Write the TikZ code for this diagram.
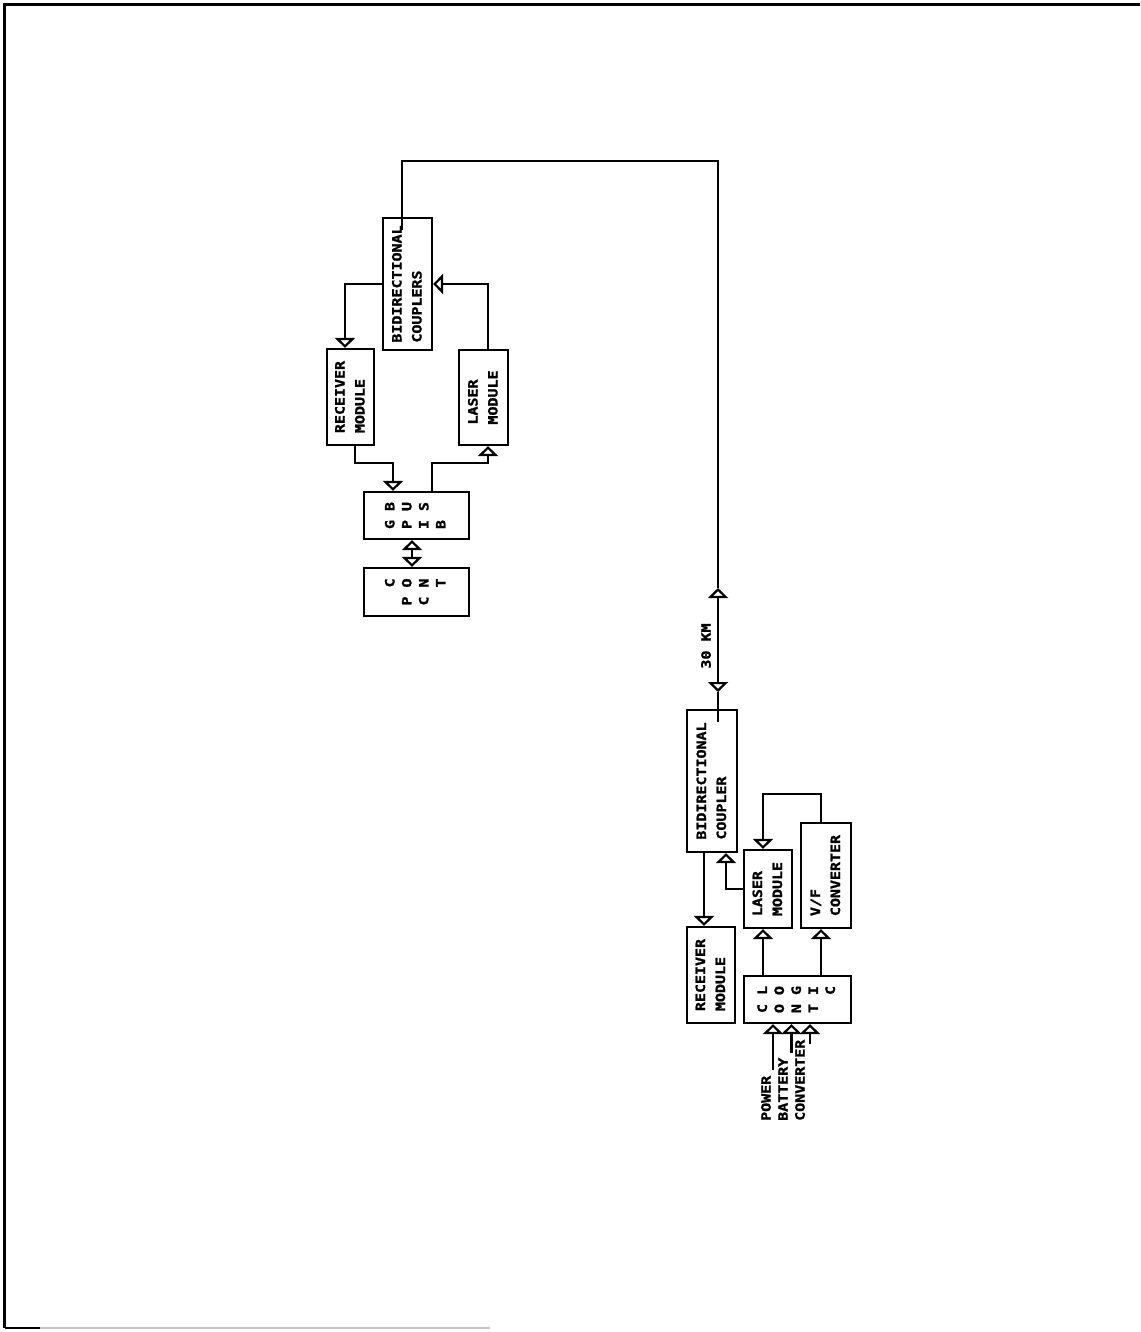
\documentclass[tikz,border=0pt]{standalone}
\usepackage{fontspec}
\usepackage{graphicx}
\usetikzlibrary{arrows.meta}
\newfontfamily\plotfont{DejaVu Sans Mono}[FakeStretch=1.17,FakeBold=1.6]
\newcommand\lblfont{\plotfont\bfseries\fontsize{12.8}{20}\selectfont}
\newcommand\twol[2]{\rotatebox{90}{\begin{tabular}{@{}l@{}}#1\\#2\end{tabular}}}
\newcommand\stk[1]{\rotatebox{90}{\fontsize{12.8}{17}\selectfont\begin{tabular}{@{}c@{\hspace{9pt}}c@{}}#1\end{tabular}}}
\begin{document}
\begin{tikzpicture}[x=1pt,y=-1pt,
  box/.style={draw, line width=2.2pt, inner sep=0pt, font=\lblfont},
  wire/.style={line width=2.2pt},
  arr/.style={wire, -{Triangle[length=10pt,width=20pt,fill=white]}},
  darr/.style={wire, {Triangle[length=10pt,width=20pt,fill=white]}-{Triangle[length=10pt,width=20pt,fill=white]}},
  lbl/.style={inner sep=0pt, font=\lblfont}]
\useasboundingbox (0,0) rectangle (1140,1332);
% frame
\draw[line width=3pt] (4.5,1328) -- (4.5,5) -- (1140,5);
\draw[line width=2pt] (4.5,1328) -- (40,1328);
\draw[line width=2pt, gray!45] (40,1328) -- (490,1328);

% ---------- upper group ----------
\node[box, minimum width=49, minimum height=132] (ubc) at (407.5,284) {\twol{BIDIRECTIONAL}{COUPLERS}};
\node[box, minimum width=47, minimum height=96] (urx) at (350.5,397) {\twol{RECEIVER}{MODULE}};
\node[box, minimum width=49, minimum height=95] (ulm) at (483.5,397.5) {\twol{LASER}{MODULE}};
\node[box, minimum width=105, minimum height=47] (gpib) at (416.5,515.5) {\stk{G&B\\P&U\\I&S\\B&}};
\node[box, minimum width=105, minimum height=48] (pc) at (416.5,592) {\stk{&C\\P&O\\C&N\\&T}};

\coordinate (ubcTap) at (402,230);
\coordinate (tr) at (718,161);
\coordinate (kmTop) at (718,588);
\coordinate (kmMid) at (718,640);
\coordinate (kmBot) at (718,692);
\coordinate (lbcTap) at (718,722);
\coordinate (busY) at (0,463);
\coordinate (loopY) at (0,794);

\draw[wire] (ubcTap) |- (tr) -- (kmTop);
\draw[arr] (kmMid) -- (kmTop);
\draw[arr] (kmMid) -- (kmBot);
\draw[wire] (kmBot) -- (lbcTap);
\node[lbl] (km) at (706,646) {\rotatebox{90}{30 KM}};

\draw[arr] (ubc.west) -| ([xshift=-5.5]urx.north);
\draw[arr] ([xshift=4.5]ulm.north) |- (ubc.east);
\draw[arr] ([xshift=4.5]urx.south) -- ([xshift=4.5]urx.south |- busY) -| ([xshift=-23.5]gpib.north);
\draw[arr] ([xshift=15.5]gpib.north) -- ([xshift=15.5]gpib.north |- busY) -| ([xshift=4.5]ulm.south);
\draw[darr] ([xshift=-4.5]gpib.south) -- ([xshift=-4.5]pc.north);

% ---------- lower group ----------
\node[box, minimum width=50, minimum height=142] (lbc) at (712,781) {\twol{BIDIRECTIONAL}{COUPLER}};
\node[box, minimum width=48, minimum height=96] (lrx) at (711,975) {\twol{RECEIVER}{MODULE}};
\node[box, minimum width=48, minimum height=78] (llm) at (768,889) {\twol{LASER}{MODULE}};
\node[box, minimum width=50, minimum height=105] (vf) at (826,875.5) {\twol{V/F}{CONVERTER}};
\node[box, minimum width=107, minimum height=47] (logic) at (797.5,999.5) {\stk{C&L\\O&O\\N&G\\T&I\\&C}};

\draw[arr] ([xshift=-8]lbc.south) -- ([xshift=-8]lbc.south |- lrx.north);
\draw[arr] (llm.west) -| ([xshift=14]lbc.south);
\draw[arr] ([xshift=-5]vf.north) -- ([xshift=-5]vf.north |- loopY) -| ([xshift=-5]llm.north);
\draw[arr] ([xshift=-5]llm.south |- logic.north) -- ([xshift=-5]llm.south);
\draw[arr] ([xshift=-5]vf.south |- logic.north) -- ([xshift=-5]vf.south);

\coordinate (inP) at (773,1070);
\coordinate (inB) at (791.5,1053);
\coordinate (inC) at (810,1044);
\draw[arr] (inP) -- (inP |- logic.south);
\draw[arr] (inB) -- (inB |- logic.south);
\draw[arr] (inC) -- (inC |- logic.south);
\node[lbl, anchor=south] (lp) at (766,1121) {\rotatebox{90}{POWER}};
\node[lbl, anchor=south] (lb) at (783,1121) {\rotatebox{90}{BATTERY}};
\node[lbl, anchor=south] (lc) at (800,1121) {\rotatebox{90}{CONVERTER}};
\end{tikzpicture}
\end{document}
